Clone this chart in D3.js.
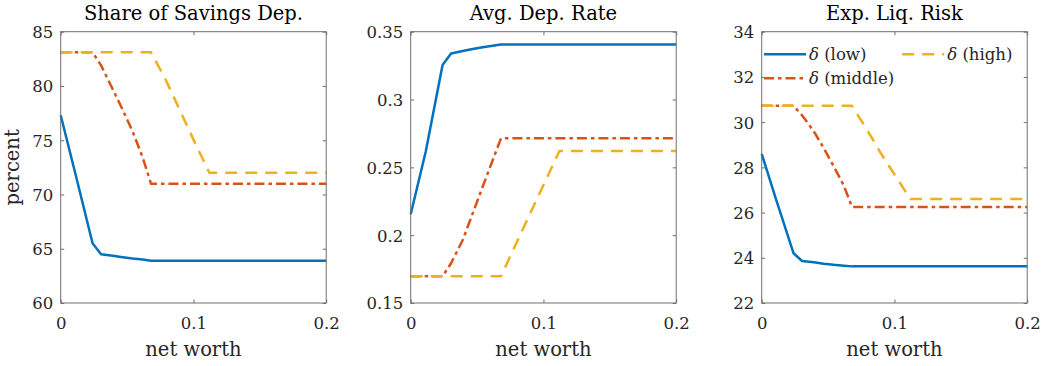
<!DOCTYPE html>
<html>
<head>
<meta charset="utf-8">
<script src="https://cdn.jsdelivr.net/npm/d3@7"></script>
<style>
  html, body { margin: 0; padding: 0; background: #ffffff; }
  svg { display: block; font-family: "DejaVu Serif", "Liberation Serif", serif; }
</style>
</head>
<body>
<svg id="chart" width="1044" height="366"></svg>
<script>
// Net-worth grid shared by every policy function
const netWorth = [0, 0.0113, 0.024, 0.0304, 0.0392, 0.0467, 0.0542, 0.0618, 0.068, 0.079, 0.090, 0.101, 0.112, 0.2];

// Share of savings deposits (percent)
const shareLow  = [77.3, 71.8, 65.5, 64.5, 64.35, 64.22, 64.1, 64.0, 63.9, 63.9, 63.9, 63.9, 63.9, 63.9];
const shareMid  = [83.1, 83.1, 83.1, 81.9, 79.7, 77.8, 75.8, 73.4, 71.0, 71.0, 71.0, 71.0, 71.0, 71.0];
const shareHigh = [83.1, 83.1, 83.1, 83.1, 83.1, 83.1, 83.1, 83.1, 83.1, 80.6, 77.7, 74.8, 72.0, 72.0];

// Average deposit rate
const rateLow  = [0.2154, 0.2615, 0.3255, 0.334, 0.3357, 0.3372, 0.3385, 0.3396, 0.3405, 0.3405, 0.3405, 0.3405, 0.3405, 0.3405];
const rateMid  = [0.1697, 0.1697, 0.1697, 0.1793, 0.1964, 0.2161, 0.2357, 0.2554, 0.2714, 0.2714, 0.2714, 0.2714, 0.2714, 0.2714];
const rateHigh = [0.1697, 0.1697, 0.1697, 0.1697, 0.1697, 0.1697, 0.1697, 0.1697, 0.1697, 0.193, 0.216, 0.239, 0.262, 0.262];

// Expected liquidity risk
const riskLow  = [28.6, 26.5, 24.2, 23.86, 23.8, 23.74, 23.69, 23.65, 23.62, 23.62, 23.62, 23.62, 23.62, 23.62];
const riskMid  = [30.72, 30.72, 30.72, 30.3, 29.6, 28.85, 28.05, 27.2, 26.25, 26.25, 26.25, 26.25, 26.25, 26.25];
const riskHigh = [30.72, 30.72, 30.72, 30.72, 30.72, 30.72, 30.72, 30.72, 30.72, 29.7, 28.6, 27.6, 26.6, 26.6];

// Axis ticks
const xTicks = [0, 0.1, 0.2];
const xTickLabels = ["0", "0.1", "0.2"];
const shareTicks = [60, 65, 70, 75, 80, 85];
const rateTicks = [0.15, 0.2, 0.25, 0.3, 0.35];
const rateTickLabels = ["0.15", "0.2", "0.25", "0.3", "0.35"];
const riskTicks = [22, 24, 26, 28, 30, 32, 34];

const titles = ["Share of Savings Dep.", "Avg. Dep. Rate", "Exp. Liq. Risk"];
const seriesNames = ["(low)", "(middle)", "(high)"];

// Line styles for the three delta levels
const styles = [
  { color: "#0072BD", dash: null },
  { color: "#D95319", dash: "10,4,3.5,4" },
  { color: "#EDB120", dash: "12,8" }
];

const panels = [
  { title: titles[0], series: [shareLow, shareMid, shareHigh], domain: [60, 85], ticks: shareTicks, fmt: d => String(d), ylabel: "percent" },
  { title: titles[1], series: [rateLow, rateMid, rateHigh], domain: [0.15, 0.35], ticks: rateTicks, fmt: (d, i) => rateTickLabels[i], ylabel: null },
  { title: titles[2], series: [riskLow, riskMid, riskHigh], domain: [22, 34], ticks: riskTicks, fmt: d => String(d), ylabel: null, legend: true }
];

const svg = d3.select("#chart");
const lefts = [60.7, 410.7, 761.7];
const plotW = 265.5;
const plotTop = 31.7, plotBottom = 303;
const plotH = plotBottom - plotTop;
const axisColor = "#6e6e6e";
const textColor = "#262626";
const tickFont = 16.5, labelFont = 19.5;

panels.forEach((p, pi) => {
  const g = svg.append("g").attr("transform", `translate(${lefts[pi]},${plotTop})`);
  const x = d3.scaleLinear().domain([0, 0.2]).range([0, plotW]);
  const y = d3.scaleLinear().domain(p.domain).range([plotH, 0]);

  // Lines
  const line = d3.line().x((d, i) => x(netWorth[i])).y(d => y(d));
  p.series.forEach((vals, si) => {
    g.append("path")
      .datum(vals)
      .attr("d", line)
      .attr("fill", "none")
      .attr("stroke", styles[si].color)
      .attr("stroke-width", 2.5)
      .attr("stroke-linejoin", "round")
      .attr("stroke-dasharray", styles[si].dash);
  });

  // Axes: inward ticks, mirrored on top and right
  const styleAxis = sel => {
    sel.select(".domain").remove();
    sel.selectAll(".tick line").attr("stroke", axisColor).attr("stroke-width", 1);
    sel.selectAll(".tick text").attr("fill", textColor).attr("font-size", tickFont)
      .attr("font-family", "DejaVu Serif");
  };

  const xAxis = d3.axisBottom(x).tickValues(xTicks).tickSizeInner(-3.5).tickSizeOuter(0)
    .tickPadding(0).tickFormat((d, i) => xTickLabels[i]);
  const gx = g.append("g").attr("transform", `translate(0,${plotH})`).call(xAxis).call(styleAxis);
  gx.selectAll(".tick text").attr("y", 25.5).attr("dy", null);

  const xTop = d3.axisTop(x).tickValues(xTicks).tickSizeInner(-3.5).tickSizeOuter(0).tickFormat("");
  g.append("g").call(xTop).call(styleAxis);

  const yAxis = d3.axisLeft(y).tickValues(p.ticks).tickSizeInner(-3.5).tickSizeOuter(0)
    .tickPadding(0).tickFormat(p.fmt);
  const gy = g.append("g").call(yAxis).call(styleAxis);
  gy.selectAll(".tick text").attr("x", -7.5).attr("dy", "0.36em");

  const yRight = d3.axisRight(y).tickValues(p.ticks).tickSizeInner(-3.5).tickSizeOuter(0).tickFormat("");
  g.append("g").attr("transform", `translate(${plotW},0)`).call(yRight).call(styleAxis);

  // Box
  g.append("rect").attr("x", 0).attr("y", 0).attr("width", plotW).attr("height", plotH)
    .attr("fill", "none").attr("stroke", axisColor).attr("stroke-width", 1);

  // Title
  g.append("text").attr("x", plotW / 2).attr("y", 19.5 - plotTop)
    .attr("text-anchor", "middle").attr("font-size", labelFont).attr("fill", "#000")
    .text(p.title);

  // X label
  g.append("text").attr("x", plotW / 2).attr("y", 356 - plotTop)
    .attr("text-anchor", "middle").attr("font-size", labelFont).attr("fill", textColor)
    .text("net worth");

  // Y label
  if (p.ylabel) {
    g.append("text")
      .attr("transform", `translate(${18.5 - lefts[pi]},${plotH / 2}) rotate(-90)`)
      .attr("text-anchor", "middle").attr("font-size", labelFont).attr("fill", textColor)
      .text(p.ylabel);
  }

  // Legend
  if (p.legend) {
    const entries = [
      { si: 0, x0: 2.3, y0: 22.6 },
      { si: 1, x0: 2.3, y0: 46.6 },
      { si: 2, x0: 140.5, y0: 22.6 }
    ];
    entries.forEach(e => {
      const lg = g.append("g").attr("transform", `translate(${e.x0},${e.y0})`);
      lg.append("line").attr("x1", 0).attr("x2", 42).attr("y1", 0).attr("y2", 0)
        .attr("stroke", styles[e.si].color).attr("stroke-width", 2.5)
        .attr("stroke-dasharray", styles[e.si].dash);
      const t = lg.append("text").attr("x", 45).attr("y", 6).attr("font-size", tickFont).attr("fill", textColor);
      t.append("tspan").attr("font-style", "italic").text("δ");
      t.append("tspan").text(" " + seriesNames[e.si]);
    });
  }
});
</script>
</body>
</html>
